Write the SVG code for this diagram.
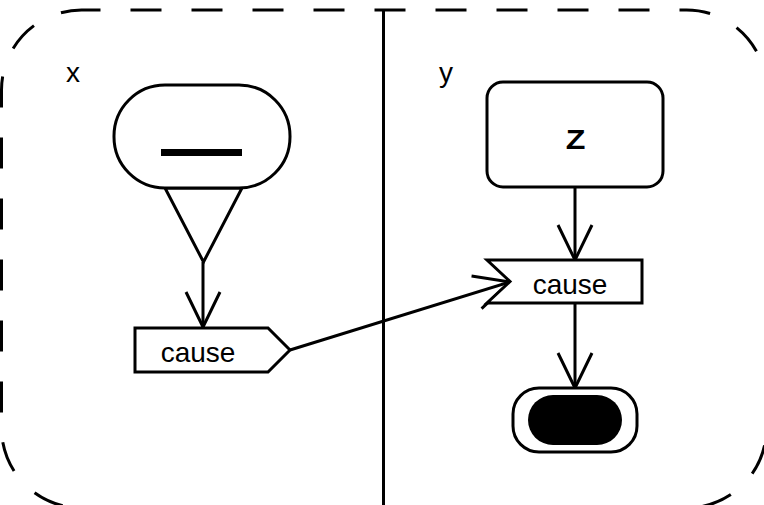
<svg xmlns="http://www.w3.org/2000/svg" width="764" height="505" viewBox="0 0 764 505">
<style>
.ln{fill:none;stroke:#000;stroke-width:3}
.nd{fill:#fff;stroke:#000;stroke-width:3}
.t{font-family:"Liberation Sans",Arial,sans-serif;font-size:28px;fill:#000}
</style>
<defs>
<marker id="arr" markerUnits="userSpaceOnUse" markerWidth="80" markerHeight="80" refX="0" refY="0" viewBox="-40 -40 80 80" orient="auto" overflow="visible">
<path d="M-35,-17 L0,0 L-35,17" fill="none" stroke="#000" stroke-width="3"/>
</marker>
</defs>
<g id="frame">
<rect x="1.5" y="10" width="765" height="498" rx="80" ry="80" fill="none" stroke="#000" stroke-width="3" stroke-dasharray="31 30" stroke-dashoffset="12"/>
<line x1="383.5" y1="10" x2="383.5" y2="505" class="ln"/>
<text class="t" x="66" y="82">x</text>
<text class="t" x="439" y="82">y</text>
</g>
<g id="connectors">
<line class="ln" x1="203" y1="262" x2="203" y2="327" marker-end="url(#arr)"/>
<line class="ln" x1="290" y1="350" x2="510" y2="282" marker-end="url(#arr)"/>
<line class="ln" x1="575" y1="187" x2="575" y2="260" marker-end="url(#arr)"/>
<line class="ln" x1="575" y1="303" x2="575" y2="388" marker-end="url(#arr)"/>
</g>
<g id="initial">
<path class="nd" d="M165,188 L242,188 L203.5,262 Z"/>
<rect class="nd" x="114" y="85" width="176" height="103" rx="51" ry="51"/>
<rect x="161" y="149" width="81" height="7" fill="#000"/>
</g>
<g id="send-cause">
<path class="nd" d="M135,328 L268,328 L290,350 L268,372 L135,372 Z"/>
<text class="t" x="198" y="362" text-anchor="middle">cause</text>
</g>
<g id="z">
<rect class="nd" x="487" y="82" width="176" height="105" rx="16" ry="16"/>
<text class="t" transform="translate(575.5,149) scale(1.15,1)" x="0" y="0" text-anchor="middle" font-weight="bold" font-size="31">Z</text>
</g>
<g id="accept-cause">
<path class="nd" d="M487,260 L642,260 L642,303 L487,303 L510,281.5 Z"/>
<text class="t" x="570" y="294" text-anchor="middle">cause</text>
</g>
<g id="final">
<rect class="nd" x="513" y="388" width="124" height="64" rx="26" ry="26"/>
<rect x="528" y="395" width="94" height="50" rx="25" ry="25" fill="#000"/>
</g>
</svg>
